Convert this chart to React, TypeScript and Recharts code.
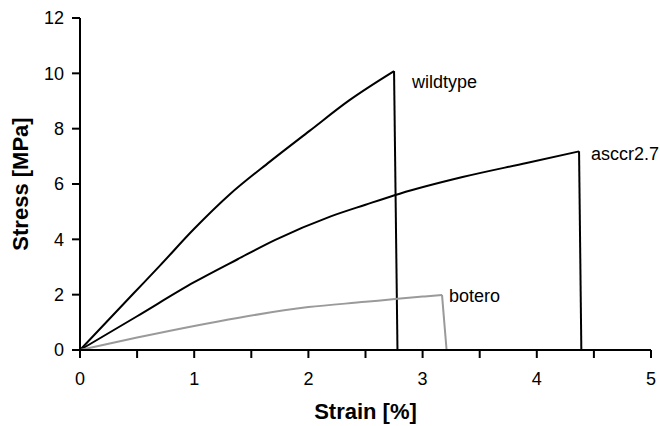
import React from 'react'
import { LineChart, Line, XAxis, YAxis, LabelList } from 'recharts'

// strain [%] / stress [MPa]
const wildtype = [
  { x: 0, y: 0 },
  { x: 0.47, y: 2.05 },
  { x: 0.7, y: 3.05 },
  { x: 1.0, y: 4.38 },
  { x: 1.31, y: 5.62 },
  { x: 1.66, y: 6.8 },
  { x: 2.01, y: 7.92 },
  { x: 2.36, y: 9.03 },
  { x: 2.75, y: 10.08 },
]
const wildtypeBreak = [
  { x: 2.75, y: 10.08 },
  { x: 2.78, y: 0 },
]

const asccr = [
  { x: 0, y: 0 },
  { x: 0.5, y: 1.22 },
  { x: 1, y: 2.45 },
  { x: 1.38, y: 3.28 },
  { x: 1.71, y: 3.98 },
  { x: 2.19, y: 4.82 },
  { x: 2.5, y: 5.25 },
  { x: 2.8, y: 5.65 },
  { x: 3.35, y: 6.25 },
  { x: 3.91, y: 6.76 },
  { x: 4.37, y: 7.18 },
]
const asccrBreak = [
  { x: 4.37, y: 7.18 },
  { x: 4.39, y: 0 },
]

const botero = [
  { x: 0, y: 0 },
  { x: 0.5, y: 0.45 },
  { x: 1, y: 0.87 },
  { x: 1.38, y: 1.16 },
  { x: 2, y: 1.55 },
  { x: 2.5, y: 1.74 },
  { x: 2.78, y: 1.85 },
  { x: 3, y: 1.93 },
  { x: 3.17, y: 1.99 },
]
const boteroBreak = [
  { x: 3.17, y: 1.99 },
  { x: 3.21, y: 0 },
]

const xTicks = [0, 0.5, 1, 1.5, 2, 2.5, 3, 3.5, 4, 4.5, 5]
const yTicks = [0, 2, 4, 6, 8, 10, 12]

const FONT = 'Arial, "Liberation Sans", sans-serif'
const BLACK = '#000'
const GREY = '#9a9a9a'

// name label next to the peak point of a curve
const peakLabel = (name: string, peakIdx: number, dx: number, dy: number) =>
  (props: any) => {
    if (props.index !== peakIdx) return null
    return (
      <text
        x={props.x + dx}
        y={props.y + dy}
        fontSize={18}
        fontFamily={FONT}
        fill="#000"
        dominantBaseline="central"
      >
        {name}
      </text>
    )
  }

export default function App() {
  return (
    <div style={{ position: 'absolute', left: 0, top: 0, background: '#fff' }}>
      <LineChart
        width={660}
        height={426}
        margin={{ top: 18, right: 9, bottom: 0, left: 10 }}
      >
        <XAxis
          type="number"
          dataKey="x"
          domain={[0, 5]}
          ticks={xTicks}
          tickFormatter={(v: number) => (Number.isInteger(v) ? String(v) : '')}
          tickSize={8}
          tickMargin={14}
          height={76}
          allowDuplicatedCategory={false}
          stroke={BLACK}
          strokeWidth={2}
          tick={{ fill: BLACK, fontSize: 18, fontFamily: FONT }}
          label={{
            value: 'Strain [%]',
            position: 'insideBottom',
            offset: 7,
            style: { fill: BLACK, fontSize: 22, fontWeight: 'bold', fontFamily: FONT },
          }}
        />
        <YAxis
          type="number"
          dataKey="y"
          domain={[0, 12]}
          ticks={yTicks}
          tickSize={8}
          tickMargin={8}
          width={70}
          stroke={BLACK}
          strokeWidth={2}
          tick={{ fill: BLACK, fontSize: 18, fontFamily: FONT }}
          label={{
            content: (p: any) => {
              const vb = p.viewBox || { y: 18, height: 332 }
              const cy = vb.y + vb.height / 2
              return (
                <text
                  x={20}
                  y={cy}
                  transform={`rotate(-90, 20, ${cy})`}
                  textAnchor="middle"
                  dominantBaseline="central"
                  fontSize={22}
                  fontWeight="bold"
                  fontFamily={FONT}
                  fill={BLACK}
                >
                  Stress [MPa]
                </text>
              )
            },
          }}
        />
        <Line data={wildtype} dataKey="y" type="monotone" stroke={BLACK} strokeWidth={2} dot={false} isAnimationActive={false}>
          <LabelList dataKey="y" content={peakLabel('wildtype', wildtype.length - 1, 18, 11)} />
        </Line>
        <Line data={wildtypeBreak} dataKey="y" type="linear" stroke={BLACK} strokeWidth={2} dot={false} isAnimationActive={false} />
        <Line data={asccr} dataKey="y" type="monotone" stroke={BLACK} strokeWidth={2} dot={false} isAnimationActive={false}>
          <LabelList dataKey="y" content={peakLabel('asccr2.7', asccr.length - 1, 12, 3)} />
        </Line>
        <Line data={asccrBreak} dataKey="y" type="linear" stroke={BLACK} strokeWidth={2} dot={false} isAnimationActive={false} />
        <Line data={botero} dataKey="y" type="monotone" stroke={GREY} strokeWidth={2} dot={false} isAnimationActive={false}>
          <LabelList dataKey="y" content={peakLabel('botero', botero.length - 1, 7, 1)} />
        </Line>
        <Line data={boteroBreak} dataKey="y" type="linear" stroke={GREY} strokeWidth={2} dot={false} isAnimationActive={false} />
      </LineChart>
    </div>
  )
}
